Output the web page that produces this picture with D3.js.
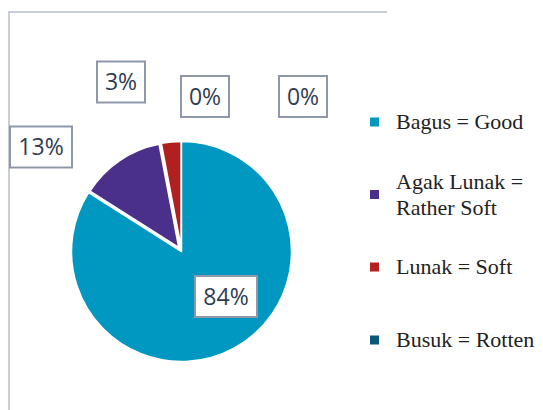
<!DOCTYPE html>
<html><head><meta charset="utf-8">
<script src="https://cdn.jsdelivr.net/npm/d3@7"></script>
<style>html,body{margin:0;padding:0;background:#fff;}svg{display:block;}
.leg{font-family:"Liberation Serif","DejaVu Serif","Times New Roman",serif;}</style>
</head><body>
<svg id="chart" width="543" height="410"></svg>
<script>
const categories = ["Bagus = Good", "Agak Lunak = Rather Soft", "Lunak = Soft", "Busuk = Rotten", ""];
const legendLines = [["Bagus = Good"], ["Agak Lunak =", "Rather Soft"], ["Lunak = Soft"], ["Busuk = Rotten"]];
const values = [84, 13, 3, 0, 0];
const labels = ["84%", "13%", "3%", "0%", "0%"];
const colors = ["#0098c0", "#4a2f8b", "#b21f1f", "#0b5876", "#7a8aa0"];

const svg = d3.select("#chart");
// frame
svg.append("path").attr("d", "M9,410 V12 H387").attr("fill", "none")
  .attr("stroke", "#c9ced8").attr("stroke-width", 2);

const cx = 181.5, cy = 251.5, R = 110;
const explode = [0, 5, 5, 0, 0];
const pie = d3.pie().sort(null).value(d => d)(values);
const g = svg.append("g").attr("transform", `translate(${cx},${cy})`);
pie.forEach((p, i) => {
  if (p.value <= 0) return;
  const e = explode[i];
  const mid = (p.startAngle + p.endAngle) / 2;
  const arc = d3.arc().innerRadius(0).outerRadius(R - e);
  g.append("path").attr("d", arc(p))
    .attr("transform", `translate(${e * Math.sin(mid)},${-e * Math.cos(mid)})`)
    .attr("fill", colors[i]).attr("stroke", "#fff").attr("stroke-width", 1.5)
    .attr("stroke-linejoin", "round");
});

// data labels (layout positions)
const labelPos = [[226, 296.5], [41, 147], [121, 82], [205, 96.5], [303, 96.5]];
labels.forEach((t, i) => {
  const [x, y] = labelPos[i];
  const w = t.length === 3 ? 62 : 48, h = 41;
  const lg = svg.append("g").attr("transform", `translate(${x},${y})`);
  lg.append("rect").attr("x", -w / 2).attr("y", -h / 2).attr("width", w).attr("height", h)
    .attr("fill", "#fff").attr("stroke", "#8f98a8").attr("stroke-width", 2);
  lg.append("text").text(t).attr("text-anchor", "middle").attr("dy", "0.36em")
    .attr("font-family", "'Open Sans', sans-serif").attr("font-size", 23)
    .attr("fill", "#2f3d52");
});

// legend
const legY = [122, 194.5, 267, 340];
const leg = svg.append("g").attr("class", "leg");
legendLines.forEach((lines, i) => {
  leg.append("rect").attr("x", 370).attr("y", legY[i] - 4.5).attr("width", 9).attr("height", 9)
    .attr("fill", colors[i]);
  const n = lines.length;
  lines.forEach((ln, j) => {
    leg.append("text").text(ln).attr("x", 396)
      .attr("y", legY[i] + 7 + (j - (n - 1) / 2) * 26)
      .attr("font-size", 22)
      .attr("fill", "#222");
  });
});
</script>
</body></html>
